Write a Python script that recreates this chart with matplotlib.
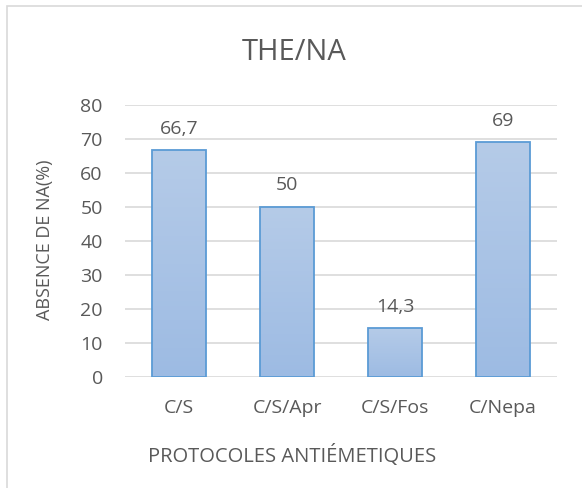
import matplotlib
matplotlib.use("Agg")
import matplotlib.pyplot as plt
import numpy as np
from matplotlib.patches import Rectangle

categories = ["C/S", "C/S/Apr", "C/S/Fos", "C/Nepa"]
values = [66.7, 50, 14.3, 69]
value_labels = ["66,7", "50", "14,3", "69"]
yticks = [0, 10, 20, 30, 40, 50, 60, 70, 80]

plt.rcParams["font.family"] = ["Open Sans", "DejaVu Sans"]
txt = "#595959"

fig = plt.figure(figsize=(5.82, 4.88), dpi=100)
fig.patches.append(Rectangle((7 / 582, -0.1), 1.2, 1 - 6 / 488 + 0.1,
                             transform=fig.transFigure, fill=False,
                             ec="#d9d9d9", lw=1.2))
ax = fig.add_axes([125 / 582, 1 - 377 / 488, 432 / 582, 272 / 488])

x = np.arange(len(categories))
bars = ax.bar(x, values, width=0.5, color="none", edgecolor="#5b9bd5",
              linewidth=1.3, zorder=3)
grad = np.linspace(0, 1, 100).reshape(-1, 1)
cmap = matplotlib.colors.LinearSegmentedColormap.from_list("g", ["#9dbbe3", "#b5cbe8"])
for b in bars:
    im = ax.imshow(grad, cmap=cmap, aspect="auto", origin="lower",
                   extent=[b.get_x(), b.get_x() + b.get_width(), 0, b.get_height()],
                   zorder=2)
    im.set_clip_path(b)

for xi, v, lab in zip(x, values, value_labels):
    ax.annotate(lab, (xi, v), xytext=(0, 12), textcoords="offset points",
                ha="center", va="baseline", fontsize=14, color=txt)

ax.set_xlim(-0.5, 3.5)
ax.set_ylim(0, 80)
ax.set_yticks(yticks)
ax.set_xticks(x)
ax.set_xticklabels(categories)
ax.tick_params(length=0, labelsize=14, colors=txt)
ax.tick_params(axis="y", pad=16)
ax.tick_params(axis="x", pad=16)
ax.grid(axis="y", color="#d9d9d9", lw=1.2, zorder=0)
for s in ax.spines.values():
    s.set_visible(False)
ax.set_axisbelow(True)

fig.text(45 / 582, 1 - 240 / 488, "ABSENCE DE NA(%)", rotation=90,
         ha="center", va="center", fontsize=13, color=txt)
fig.text(292 / 582, 1 - 456 / 488, "PROTOCOLES ANTIÉMETIQUES",
         ha="center", va="center", fontsize=14.5, color=txt)
fig.text(294 / 582, 1 - 52 / 488, "THE/NA", ha="center", va="center",
         fontsize=21, color=txt)

fig.savefig("out.png", dpi=100)
